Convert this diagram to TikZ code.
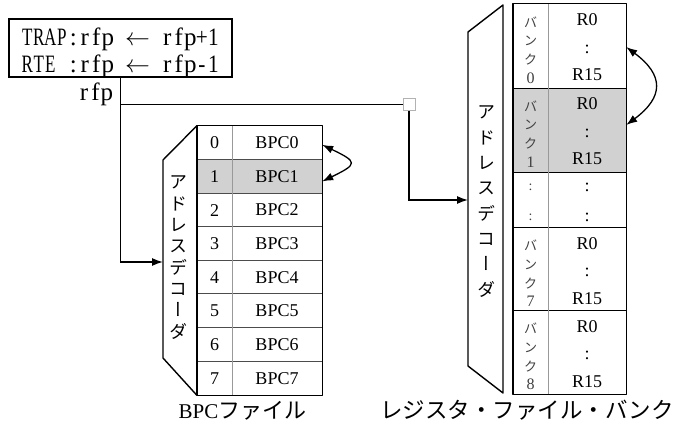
\documentclass[tikz,border=0pt]{standalone}
\usepackage{fontspec}
\setmainfont{Liberation Serif}
\newfontfamily\jp{Noto Sans CJK JP}
\newfontfamily\jpv[RawFeature=+vert]{Noto Sans CJK JP}
\usetikzlibrary{arrows.meta,calc}
% fixed-pitch boxes: upper case condensed, lower case natural
\newcommand\mcu[1]{\makebox[11.5pt][c]{\scalebox{0.68}[1]{#1}}}
\newcommand\mcl[1]{\makebox[11.5pt][c]{#1}}
\newcommand\mcd[1]{\makebox[11.5pt][c]{\scalebox{0.85}[1]{#1}}}
\tikzset{
  outerline/.style={line width=1.4pt, draw=black, line join=round},
  rowsep/.style={line width=1pt, draw=black!70},
  banksep/.style={line width=1.2pt, draw=black},
  colsep/.style={line width=0.8pt, draw=black!40},
  conn/.style={line width=1.3pt, -{Latex[length=11pt,width=8pt]}},
  plainline/.style={line width=1.3pt},
  dbl/.style={line width=1.3pt, {Latex[length=11pt,width=8pt]}-{Latex[length=11pt,width=8pt]}},
  cellA/.style={minimum height=33.625pt, minimum width=35pt, inner sep=0pt, font=\fontsize{18}{18}\selectfont},
  cellB/.style={minimum height=33.625pt, minimum width=90pt, inner sep=0pt, font=\fontsize{18}{18}\selectfont},
  monotext/.style={anchor=base west, inner sep=0pt, font=\fontsize{25}{25}\selectfont},
  banklbl/.style={align=center, inner sep=0pt, text=black!75, font=\jp\fontsize{13}{18.7}\selectfont},
  bankval/.style={align=center, inner sep=0pt, font=\fontsize{18}{27.5}\selectfont},
  hl/.style={fill=black!18},
}
\begin{document}
\begin{tikzpicture}[x=1pt,y=-1pt]
\useasboundingbox (0,0) rectangle (676,430);

% ---- top box ----
\node[draw, line width=1.2pt, minimum width=223pt, minimum height=58pt, inner sep=0pt] (box) at (120.5,48) {};
\node[monotext] (t1) at (21.4,45.5) {\mcu{T}\mcu{R}\mcu{A}\mcu{P}\mcl{:}\mcl{r}\mcl{f}\mcl{p}\mcl{~}\makebox[25pt][c]{$\leftarrow$}\mcl{~}\mcl{r}\mcl{f}\mcl{p}\mcd{+}\mcd{1}};
\node[monotext] (t2) at (21.4,72.5) {\mcu{R}\mcu{T}\mcu{E}\mcl{~}\mcl{:}\mcl{r}\mcl{f}\mcl{p}\mcl{~}\makebox[25pt][c]{$\leftarrow$}\mcl{~}\mcl{r}\mcl{f}\mcl{p}\mcd{-}\mcd{1}};
\node[monotext] (rfp) at (78,100.5) {\mcl{r}\mcl{f}\mcl{p}};

% ---- BPC file ----
\foreach \i in {0,...,7}{
  \pgfmathsetmacro\yc{126+33.625*(\i+0.5)}
  \ifnum\i=1
    \node[cellA, hl] (n\i) at (214.5,\yc) {\i};
    \node[cellB, hl] (b\i) at (277,\yc) {BPC\i};
  \else
    \node[cellA] (n\i) at (214.5,\yc) {\i};
    \node[cellB] (b\i) at (277,\yc) {BPC\i};
  \fi
}
\foreach \i in {1,...,7}{
  \draw[rowsep] (n\i.north west) -- (b\i.north east);
}
\draw[colsep] (n0.north east) -- (n7.south east);
\draw[outerline] (n0.north west) rectangle (b7.south east);
\draw[outerline] (n0.north west) -- (163,160) -- (163,358) -- (n7.south west);
\node[align=center, inner sep=0pt, font=\jpv\fontsize{18}{21.3}\selectfont] (d1) at (178.5,257.5) {ア\\ド\\レ\\ス\\デ\\コ\\ー\\ダ};
\coordinate (dec1in) at (163,262);

% ---- register bank ----
\foreach \k/\t/\b in {0/4/88,1/88/172,7/228/311,8/311/394}{
  \pgfmathsetmacro\h{\b-\t}
  \pgfmathsetmacro\m{(\t+\b)/2}
  \ifnum\k=1
    \node[hl, minimum width=35pt, minimum height=\h pt, inner sep=0pt] (L\k) at (530.5,\m) {};
    \node[hl, minimum width=78pt, minimum height=\h pt, inner sep=0pt] (V\k) at (587,\m) {};
  \else
    \node[minimum width=35pt, minimum height=\h pt, inner sep=0pt] (L\k) at (530.5,\m) {};
    \node[minimum width=78pt, minimum height=\h pt, inner sep=0pt] (V\k) at (587,\m) {};
  \fi
  \node[banklbl] (Lt\k) at ($(L\k.center)+(0,4)$) {バ\\ン\\ク\\{\rmfamily\fontsize{16}{18.7}\selectfont\k}};
  \node[bankval] (Vt\k) at ($(V\k.center)+(0,1.5)$) {R0\\:\\R15};
}
\node[align=center, inner sep=0pt, text=black!75, font=\fontsize{14}{30}\selectfont] (L9) at (530.5,202) {:\\:};
\node[align=center, inner sep=0pt, font=\fontsize{18}{30}\selectfont] (V9) at (587,202) {:\\:};
\draw[banksep] (L0.south west) -- (V0.south east);
\draw[banksep] (L1.south west) -- (V1.south east);
\draw[banksep] (L7.north west) -- (V7.north east);
\draw[banksep] (L8.north west) -- (V8.north east);
\draw[colsep] (L0.north east) -- (L8.south east);
\draw[outerline] (L0.north west) rectangle (V8.south east);
\draw[outerline] (503,5) -- (468,32) -- (468,366) -- (503,393) -- cycle;
\node[align=center, inner sep=0pt, font=\jpv\fontsize{18}{25.3}\selectfont] (d2) at (486,201.5) {ア\\ド\\レ\\ス\\デ\\コ\\ー\\ダ};
\coordinate (dec2in) at (468,200);

% ---- connectors ----
\node[draw=black!30, fill=white, line width=0.8pt, minimum size=12pt, inner sep=0pt] (sq) at (409,104.5) {};
\draw[conn] (box.south) |- (dec1in);
\draw[plainline] (box.south |- sq.west) -- (sq.west);
\draw[conn] (sq.south) |- (dec2in);
\draw[dbl] ($(b0.east)+(0,2)$) .. controls (358,162) and (358,164) .. ($(b1.east)+(0,5)$);
\draw[dbl] ($(V0.east)+(0,1)$) .. controls (664,75) and (664,97) .. ($(V1.east)+(0,-5)$);

% ---- captions ----
\node[anchor=base, inner sep=0pt] (lab1) at (242.5,418) {\fontsize{21}{21}\selectfont BPC\jp\fontsize{22}{22}\selectfont ファイル};
\node[anchor=base, inner sep=0pt] (lab2) at (527,418) {\jp\fontsize{22.5}{22.5}\selectfont レジスタ・ファイル・バンク};
\end{tikzpicture}
\end{document}
